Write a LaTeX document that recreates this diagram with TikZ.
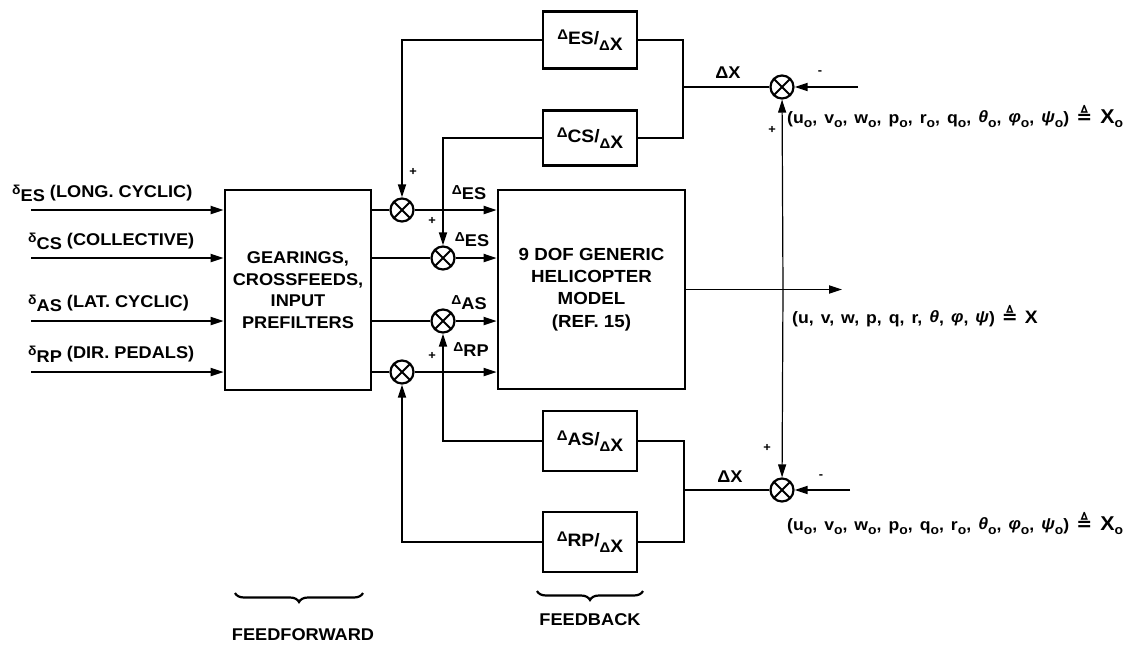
\documentclass[tikz,border=0pt]{standalone}
\usepackage{fontspec}
\setmainfont{Liberation Sans}[FakeStretch=1.07]
\newfontfamily\dejavu{DejaVu Sans}
\usetikzlibrary{arrows.meta,decorations.pathreplacing}
\newcommand{\deq}{{\dejavu\bfseries\fontsize{19}{19}\selectfont ≜}}
\newcommand{\gainlab}[1]{\raisebox{5pt}{{\fontsize{14}{14}\selectfont Δ}}#1/\raisebox{-6pt}{{\fontsize{14}{14}\selectfont Δ}X}}
\newcommand{\dlab}[1]{\raisebox{3pt}{{\fontsize{13}{13}\selectfont Δ}}\raisebox{-2pt}{#1}}
\newcommand{\inlab}[2]{\raisebox{3pt}{{\fontsize{13}{13}\selectfont δ}}\raisebox{-4pt}{#1} #2}
\newcommand{\so}{\raisebox{-4pt}{\fontsize{13}{13}\selectfont o}}
\newcommand{\gk}[1]{\raisebox{1pt}{\itshape #1}}
\newcommand{\widesp}{\spaceskip=7pt plus 1pt\relax}
\begin{document}
\begin{tikzpicture}[x=1pt,y=-1pt,
  every node/.style={font=\bfseries\fontsize{17}{21.5}\selectfont, inner sep=0pt},
  ln/.style={line width=1.8pt},
  arr/.style={ln,-{Triangle[length=13pt,width=8pt]}},
  thinarr/.style={line width=1.2pt,-{Triangle[length=13pt,width=8pt]}},
  bigbox/.style={draw, line width=2.6pt, align=center},
  gainbox/.style={draw, line width=2.6pt, minimum width=94pt, minimum height=58pt, font=\bfseries\fontsize{18}{20}\selectfont},
  sum/.style={circle, draw, line width=2.2pt, minimum size=23pt,
    path picture={\draw[line width=2pt] (path picture bounding box.north west) -- (path picture bounding box.south east)
      (path picture bounding box.north east) -- (path picture bounding box.south west);}},
  sgn/.style={font=\bfseries\fontsize{12}{12}\selectfont},
  lab/.style={font=\bfseries\fontsize{17}{18}\selectfont},
  eqlab/.style={font=\bfseries\fontsize{16.5}{18}\selectfont, anchor=west},
  brc/.style={decorate, decoration={brace, mirror, amplitude=9pt}, line width=2.2pt}
]
\useasboundingbox (0,0) rectangle (1148,645);

% main blocks
\node[bigbox, minimum width=146pt, minimum height=200pt] (ff) at (298,290)
  {GEARINGS,\\CROSSFEEDS,\\INPUT\\PREFILTERS};
\node[bigbox, minimum width=187pt, minimum height=199pt, font=\bfseries\fontsize{17.5}{22.3}\selectfont] (hm) at (591.5,289.5)
  {9 DOF GENERIC\\HELICOPTER\\MODEL\\(REF. 15)};

% gain boxes
\node[gainbox, minimum height=57pt] (bES) at (590,40) {\gainlab{ES}};
\node[gainbox, minimum height=55pt] (bCS) at (590,138) {\gainlab{CS}};
\node[gainbox, minimum height=60pt] (bAS) at (590,441) {\gainlab{AS}};
\node[gainbox, minimum height=60pt] (bRP) at (590,542) {\gainlab{RP}};

% summing junctions
\node[sum] (s1) at (402,210) {};
\node[sum] (s2) at (443,258) {};
\node[sum] (s3) at (443,321) {};
\node[sum] (s4) at (402,372) {};
\node[sum] (st) at (782,87) {};
\node[sum] (sb) at (782,490) {};

% coordinates
\coordinate (i1) at (31,210);
\coordinate (i2) at (31,258);
\coordinate (i3) at (31,321);
\coordinate (i4) at (31,372);
\coordinate (jt) at (683,87);
\coordinate (jb) at (684,490);
\coordinate (tap) at (783,289.5);
\coordinate (out) at (842,289.5);
\coordinate (xt) at (858,87);
\coordinate (xb) at (850,490);

% inputs
\foreach \i in {i1,i2,i3,i4} \draw[arr] (\i) -- (\i -| ff.west);

% forward paths through junctions
\foreach \s in {s1,s2,s3,s4} {
  \draw[ln] (\s -| ff.east) -- (\s);
  \draw[arr] (\s) -- (\s -| hm.west);
}

% output
\draw[arr] (hm.east) -- (out);
\draw[thinarr] (tap) -- (st);
\draw[thinarr] (tap) -- (sb);

% error signals
\draw[arr] (xt) -- (st);
\draw[arr] (xb) -- (sb);
\draw[ln] (st) -- (jt);
\draw[ln] (sb) -- (jb);

% feedback gains top
\draw[ln] (bES.east) -- (bES.east -| jt) -- (bCS.east -| jt) -- (bCS.east);
\draw[arr] (bES.west) -| (s1);
\draw[arr] (bCS.west) -| (s2);

% feedback gains bottom
\draw[ln] (bAS.east) -- (bAS.east -| jb) -- (bRP.east -| jb) -- (bRP.east);
\draw[arr] (bAS.west) -| (s3);
\draw[arr] (bRP.west) -| (s4);

% input labels
\node[anchor=west] (l1) at (12,193) {\inlab{ES}{(LONG. CYCLIC)}};
\node[anchor=west] (l2) at (28,241) {\inlab{CS}{(COLLECTIVE)}};
\node[anchor=west] (l3) at (28,303) {\inlab{AS}{(LAT. CYCLIC)}};
\node[anchor=west] (l4) at (28,354) {\inlab{RP}{(DIR. PEDALS)}};

% delta labels
\node (d1) at (469,193) {\dlab{ES}};
\node (d2) at (472,240) {\dlab{ES}};
\node (d3) at (469,303) {\dlab{AS}};
\node (d4) at (471,350) {\dlab{RP}};

% signs
\node[sgn] (p1) at (413,172) {+};
\node[sgn] (p2) at (432,221) {+};
\node[sgn] (p4) at (432,356) {+};
\node[sgn] (pt) at (772,130) {+};
\node[sgn] (pb) at (767,448) {+};
\node[sgn] (mt) at (820,73) {-};
\node[sgn] (mb) at (821,477) {-};

% delta X labels
\node[lab] (dxt) at (728,73) {ΔX};
\node[lab] (dxb) at (730,477) {ΔX};

% equation labels
\node[eqlab] (eqt) at (787,117) {\widesp(u\so, v\so, w\so, p\so, r\so, q\so, \gk{θ}\so, \gk{φ}\so, \gk{ψ}\so) \deq\hspace{8pt}{\fontsize{20}{20}\selectfont X}\so};
\node[eqlab] (eqb) at (787,524) {\widesp(u\so, v\so, w\so, p\so, q\so, r\so, \gk{θ}\so, \gk{φ}\so, \gk{ψ}\so) \deq\hspace{8pt}{\fontsize{20}{20}\selectfont X}\so};
\node[eqlab] (eqo) at (792,316) {\widesp(u, v, w, p, q, r, \gk{θ}, \gk{φ}, \gk{ψ}) \deq\ {\fontsize{18}{18}\selectfont X}};

% braces
\coordinate (bf1) at (235,593);
\coordinate (bf2) at (363,593);
\coordinate (bb1) at (537,591);
\coordinate (bb2) at (643,591);
\draw[brc] (bf1) -- (bf2);
\draw[brc] (bb1) -- (bb2);
\node (tff) at (303,635) {FEEDFORWARD};
\node (tfb) at (590,620) {FEEDBACK};
\end{tikzpicture}
\end{document}
